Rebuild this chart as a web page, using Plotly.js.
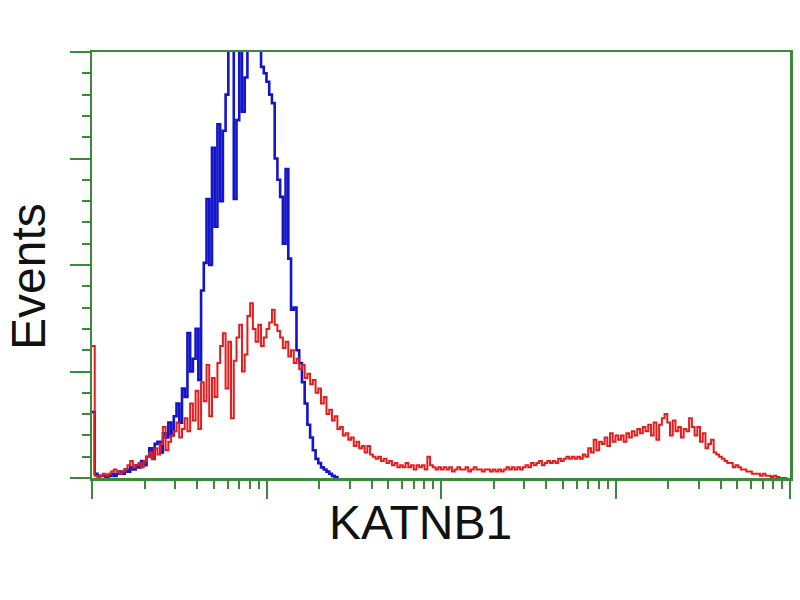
<!DOCTYPE html>
<html>
<head>
<meta charset="utf-8">
<script src="https://cdn.plot.ly/plotly-3.0.1.min.js"></script>
<style>html,body{margin:0;padding:0;background:#fff;}#chart{width:800px;height:600px;}</style>
</head>
<body>
<div id="chart"></div>
<script>
// Histogram counts per channel (64 channels per decade, 4 decades)
const blueCounts = [31,2,1,1,1,0,1,2,1,2,3,2,4,3,5,4,6,5,8,6,
  10,14,9,16,17,12,21,19,26,20,29,35,26,42,38,68,50,56,70,46,
  88,101,131,100,155,118,166,130,163,180,215,221,131,168,230,172,188,225,240,245,
  240,230,193,190,186,180,176,150,140,132,110,145,103,79,80,60,54,45,35,25,
  19,13,9,7,5,4,3,2,1,0.5,0];
const redCounts = [62,1,0.5,1,2,1,2,3,4,3,2,3,4,6,8,5,6,7,5,8,
  10,12,9,14,11,16,24,13,17,20,22,26,19,23,28,22,35,27,41,23,
  45,36,53,29,47,38,54,62,68,42,64,28,55,66,72,50,58,76,82,70,
  64,72,62,66,70,73,79,72,69,66,61,64,57,60,54,56,51,53,47,49,
  44,46,40,42,35,38,30,32,27,29,23,24,20,21,18,19,15,17,14,15,
  12,15,11,10,9,10,8,9,7,8,6,7,5,6,5,7,5,6,4,6,
  5,6,4,10,6,5,4,5,4,5,4,5,3,4,5,4,4,5,3,4,
  5,4,4,3,4,4,3,4,3,4,3,4,5,4,5,4,5,4,5,6,
  5,7,6,7,8,6,7,8,7,8,7,9,8,9,10,9,10,9,10,9,
  11,10,14,12,18,13,17,16,19,15,21,17,20,18,20,17,21,19,22,20,
  23,21,24,22,25,20,26,18,25,28,30,26,20,27,22,24,19,23,22,28,
  24,20,24,17,21,14,16,18,12,11,10,9,8,7,7,5,6,5,4,4,
  3,3,2,2,2,1,2,1,1,0.5,1,0.5,0,0,0,0];
const channelsPerDecade = 64;
const decades = 4;
const xTitle = 'KATNB1';
const yTitle = 'Events';

const blueX = blueCounts.map((_, i) => i);
const redX = redCounts.map((_, i) => i);

const majorTicks = [];
const minorTicks = [];
for (let d = 0; d <= decades; d++) {
  majorTicks.push(d * channelsPerDecade);
  if (d < decades) {
    for (let k = 2; k <= 9; k++) minorTicks.push(channelsPerDecade * (d + Math.log10(k)));
  }
}

const green = '#3b8a3b';
const traces = [
  {x: blueX, y: blueCounts, type: 'scatter', mode: 'lines', line: {color: '#1414c8', width: 2.6, shape: 'hv'}, hoverinfo: 'skip'},
  {x: redX, y: redCounts, type: 'scatter', mode: 'lines', line: {color: '#e31c1c', width: 2, shape: 'hv'}, hoverinfo: 'skip'}
];

const layout = {
  width: 800, height: 600,
  margin: {l: 92, r: 10, t: 52, b: 122},
  paper_bgcolor: '#ffffff', plot_bgcolor: '#ffffff',
  showlegend: false,
  xaxis: {
    range: [0, decades * channelsPerDecade],
    showgrid: false, zeroline: false,
    showline: true, mirror: true, linecolor: green, linewidth: 2.5,
    tickmode: 'array', tickvals: majorTicks, ticktext: majorTicks.map(() => ''),
    ticks: 'outside', ticklen: 18, tickwidth: 2, tickcolor: green,
    minor: {tickmode: 'array', tickvals: minorTicks, ticks: 'outside', ticklen: 8, tickwidth: 2, tickcolor: green, showgrid: false}
  },
  yaxis: {
    range: [0, 200],
    showgrid: false, zeroline: false,
    showline: true, mirror: true, linecolor: green, linewidth: 2.5,
    tickmode: 'linear', tick0: 0, dtick: 50, showticklabels: false,
    ticks: 'outside', ticklen: 20, tickwidth: 2, tickcolor: green,
    minor: {dtick: 10, ticks: 'outside', ticklen: 8, tickwidth: 2, tickcolor: green, showgrid: false}
  },
  annotations: [
    {text: xTitle, xref: 'paper', yref: 'paper', x: 0.471, y: -0.104, xanchor: 'center', yanchor: 'middle', showarrow: false,
     font: {family: 'Liberation Sans, Arial, sans-serif', size: 48, color: '#111'}},
    {text: yTitle, xref: 'paper', yref: 'paper', x: -0.091, y: 0.473, xanchor: 'center', yanchor: 'middle', showarrow: false, textangle: -90,
     font: {family: 'Liberation Sans, Arial, sans-serif', size: 48, color: '#111'}}
  ]
};

Plotly.newPlot('chart', traces, layout, {displayModeBar: false, staticPlot: true});
</script>
</body>
</html>
